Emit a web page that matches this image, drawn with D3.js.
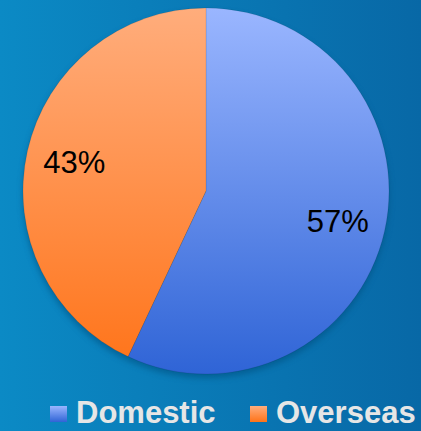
<!DOCTYPE html>
<html><head><meta charset="utf-8">
<script src="https://cdn.jsdelivr.net/npm/d3@7"></script>
<style>html,body{margin:0;padding:0;overflow:hidden;background:#0a7ab8}</style>
</head><body>
<script>
const categories = ["Domestic", "Overseas"];
const values = [57, 43];
const labels = ["57%", "43%"];

const W = 421, H = 431;
const cx = 206, cy = 191, R = 183;
const svg = d3.select("body").append("svg").attr("width", W).attr("height", H);
const defs = svg.append("defs");

const bg = defs.append("linearGradient").attr("id", "bg").attr("x1", 0).attr("x2", 1).attr("y1", 0).attr("y2", 0);
bg.append("stop").attr("offset", 0).attr("stop-color", "#0b8ac5");
bg.append("stop").attr("offset", 1).attr("stop-color", "#0868a6");
svg.append("rect").attr("width", W).attr("height", H).attr("fill", "url(#bg)");

const grads = [["#9ab6ff", "#2f64d6"], ["#ffad7c", "#ff7318"]];
grads.forEach((g, i) => {
  const lg = defs.append("linearGradient").attr("id", "g" + i)
    .attr("gradientUnits", "userSpaceOnUse")
    .attr("x1", 0).attr("x2", 0).attr("y1", -R).attr("y2", R);
  lg.append("stop").attr("offset", 0).attr("stop-color", g[0]);
  lg.append("stop").attr("offset", 1).attr("stop-color", g[1]);
  const lg2 = defs.append("linearGradient").attr("id", "s" + i).attr("x1", 0).attr("x2", 0).attr("y1", 0).attr("y2", 1);
  lg2.append("stop").attr("offset", 0).attr("stop-color", g[0]);
  lg2.append("stop").attr("offset", 1).attr("stop-color", g[1]);
});

const blur = defs.append("filter").attr("id", "shadow").attr("x", "-20%").attr("y", "-20%").attr("width", "140%").attr("height", "140%");
blur.append("feGaussianBlur").attr("stdDeviation", 3);

const color = d3.scaleOrdinal().domain(categories).range(["url(#g0)", "url(#g1)"]);
const pie = d3.pie().sort(null).value(d => d)(values);
const arc = d3.arc().innerRadius(0).outerRadius(R);
const labelArc = d3.arc().innerRadius(135).outerRadius(135);

const g = svg.append("g").attr("transform", `translate(${cx},${cy})`);
g.append("circle").attr("cx", 0).attr("cy", 4).attr("r", R).attr("fill", "#05507f").attr("opacity", 0.6).attr("filter", "url(#shadow)");
g.selectAll("path.slice").data(pie).join("path").attr("class", "slice")
  .attr("d", arc).attr("fill", (d, i) => color(categories[i]))
  .attr("stroke", "rgba(0,0,0,0.15)").attr("stroke-width", 0.6);

g.selectAll("text.lbl").data(pie).join("text").attr("class", "lbl")
  .attr("transform", d => `translate(${labelArc.centroid(d)})`)
  .attr("text-anchor", "middle").attr("dy", "0.36em")
  .attr("font-family", "Liberation Sans, Arial, sans-serif").attr("font-size", 31)
  .attr("fill", "#000").text((d, i) => labels[i]);

const legendX = d3.scalePoint().domain(categories).range([50, 250]);
const lg = svg.append("g");
categories.forEach((c, i) => {
  const x = legendX(c);
  lg.append("rect").attr("x", x).attr("y", 406).attr("width", 17).attr("height", 16).attr("fill", "url(#s" + i + ")");
  lg.append("text").attr("x", x + 26).attr("y", 423)
    .attr("font-family", "Liberation Sans, Arial, sans-serif").attr("font-weight", "bold")
    .attr("font-size", 31).attr("fill", "#e6e6e6").text(c);
});
</script>
</body></html>
